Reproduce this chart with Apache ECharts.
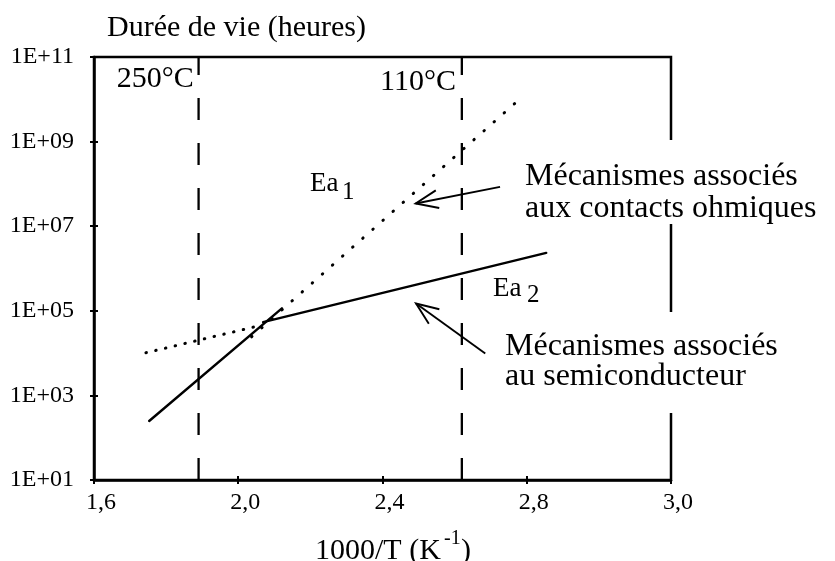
<!DOCTYPE html>
<html><head><meta charset="utf-8">
<script src="https://cdn.jsdelivr.net/npm/echarts@6/dist/echarts.min.js"></script>
<style>html,body{margin:0;padding:0;background:#fff}#c{width:835px;height:561px}</style>
</head><body><div id="c"></div>
<script>
// ---- data ----
const xTickValues = [1.6, 2.0, 2.4, 2.8, 3.2];
const xTickLabels = ['1,6', '2,0', '2,4', '2,8', '3,0'];
const yTickValues = [1e1, 1e3, 1e5, 1e7, 1e9, 1e11];
const yTickLabels = ['1E+01', '1E+03', '1E+05', '1E+07', '1E+09', '1E+11'];

// Ea1 : mécanismes liés aux contacts ohmiques (pente forte)
const ohmicSolid  = [[1.753, 248], [2.121, 1.14e5]];
const ohmicDotted = [[2.037, 2.43e4], [2.789, 1.17e10]];
// Ea2 : mécanismes liés au semiconducteur (pente faible)
const semiSolid   = [[2.069, 5.4e4], [2.854, 2.34e6]];
const semiDotted  = [[1.744, 1.02e4], [2.066, 4.6e4]];

// températures repères (1000/T)
const tempX = [1.89, 2.62];
const tempLabels = ['250°C', '110°C'];

// flèches d'annotation (queue -> pointe), en coordonnées des données
const arrowOhmic = [[2.726, 8.5e7], [2.492, 3.44e7]];
const arrowSemi  = [[2.685, 9.8e3], [2.493, 1.49e5]];

const FONT = 'Liberation Serif';
const BLACK = '#000';

function yLabel(v) {
  const e = Math.round(Math.log10(v));
  for (let i = 0; i < yTickValues.length; i++) {
    if (Math.round(Math.log10(yTickValues[i])) === e) return yTickLabels[i];
  }
  return '';
}
function xLabel(v) {
  for (let i = 0; i < xTickValues.length; i++) {
    if (Math.abs(xTickValues[i] - v) < 1e-6) return xTickLabels[i];
  }
  return '';
}

const chart = echarts.init(document.getElementById('c'));

const baseX = {
  type: 'value', min: 1.6, max: 3.2, interval: 0.4, position: 'bottom',
  splitLine: { show: false }
};
const baseY = {
  type: 'log', logBase: 10, min: 1e1, max: 1e11, position: 'left',
  splitLine: { show: false }, minorTick: { show: false }
};

function lineSeries(data, type, width) {
  return {
    type: 'line', data: data, symbol: 'none', silent: true, animation: false,
    xAxisIndex: 0, yAxisIndex: 0,
    lineStyle: { color: BLACK, width: width, type: type, cap: 'round' }
  };
}

const series = [
  lineSeries(ohmicSolid, 'solid', 2.4),
  lineSeries(ohmicDotted, [0.5, 13], 3),
  lineSeries(semiSolid, 'solid', 2.4),
  lineSeries(semiDotted, [0.5, 9.5], 3)
];
tempX.forEach(function (x) {
  series.push({
    type: 'line', symbol: 'none', silent: true, animation: false,
    xAxisIndex: 0, yAxisIndex: 0,
    data: [[x, 1e1], [x, 1e11]],
    lineStyle: { color: BLACK, width: 2.3, type: [22, 23] }
  });
});

chart.setOption({
  animation: false,
  backgroundColor: '#fff',
  grid: { left: 94, top: 57, width: 577, height: 423, show: true,
          borderColor: BLACK, borderWidth: 2.5, backgroundColor: 'transparent' },
  xAxis: [
    Object.assign({}, baseX, {
      axisLine: { lineStyle: { color: BLACK, width: 2.5 } },
      axisTick: { show: true, length: 4, lineStyle: { color: BLACK, width: 2 } },
      axisLabel: { color: BLACK, fontFamily: FONT, fontSize: 24, margin: 11,
                   padding: [0, 0, 0, 14], formatter: xLabel }
    }),
    Object.assign({}, baseX, {
      axisLine: { show: false },
      axisTick: { show: true, inside: true, length: 4, lineStyle: { color: BLACK, width: 2 } },
      axisLabel: { show: false }
    })
  ],
  yAxis: [
    Object.assign({}, baseY, {
      axisLine: { lineStyle: { color: BLACK, width: 2.5 } },
      axisTick: { show: true, length: 4, customValues: yTickValues,
                  lineStyle: { color: BLACK, width: 2 } },
      axisLabel: { color: BLACK, fontFamily: FONT, fontSize: 24, margin: 20,
                   customValues: yTickValues, formatter: yLabel }
    }),
    Object.assign({}, baseY, {
      axisLine: { show: false },
      axisTick: { show: true, inside: true, length: 4, customValues: yTickValues,
                  lineStyle: { color: BLACK, width: 2 } },
      axisLabel: { show: false, customValues: yTickValues }
    })
  ],
  series: series
});

// ---- annotations ----
function px(p) { return chart.convertToPixel({ gridIndex: 0 }, p); }
function arrow(def) {
  const t = px(def[0]), h = px(def[1]);
  const ang = Math.atan2(t[1] - h[1], t[0] - h[0]);
  const L = 24, a = 22 * Math.PI / 180;
  const b1 = [h[0] + L * Math.cos(ang + a), h[1] + L * Math.sin(ang + a)];
  const b2 = [h[0] + L * Math.cos(ang - a), h[1] + L * Math.sin(ang - a)];
  const st = { stroke: BLACK, lineWidth: 1.9, fill: null };
  return [
    { type: 'polyline', z: 70, shape: { points: [t, h] }, style: st },
    { type: 'polyline', z: 70, shape: { points: [b1, h, b2] }, style: st }
  ];
}
function txt(str, left, baseline, size) {
  return { type: 'text', z: 80, x: left, y: baseline - 0.305 * size,
           style: { text: str, fill: BLACK, font: size + 'px "' + FONT + '"',
                    align: 'left', verticalAlign: 'middle' } };
}

const g = [
  { type: 'rect', z: 60, shape: { x: 515, y: 140, width: 320, height: 84 }, style: { fill: '#fff' } },
  { type: 'rect', z: 60, shape: { x: 495, y: 312, width: 340, height: 101 }, style: { fill: '#fff' } },
  txt('Durée de vie (heures)', 107, 37, 30),
  txt(tempLabels[0], 116.7, 88.3, 30),
  txt(tempLabels[1], 380, 91.7, 30),
  txt('Mécanismes associés', 525, 186.7, 32),
  txt('aux contacts ohmiques', 525, 218.3, 32),
  txt('Mécanismes associés', 505, 356.7, 32),
  txt('au semiconducteur', 505, 386.7, 32),
  txt('Ea', 310, 192, 27),
  txt('1', 342, 200, 25),
  txt('Ea', 493, 296.7, 27),
  txt('2', 527, 303, 25),
  txt('1000/T (K', 315, 560, 30),
  txt('-1', 444, 545, 20),
  txt(')', 461, 560, 30)
].concat(arrow(arrowOhmic), arrow(arrowSemi));

chart.setOption({ graphic: { elements: g } });
</script>
</body></html>
